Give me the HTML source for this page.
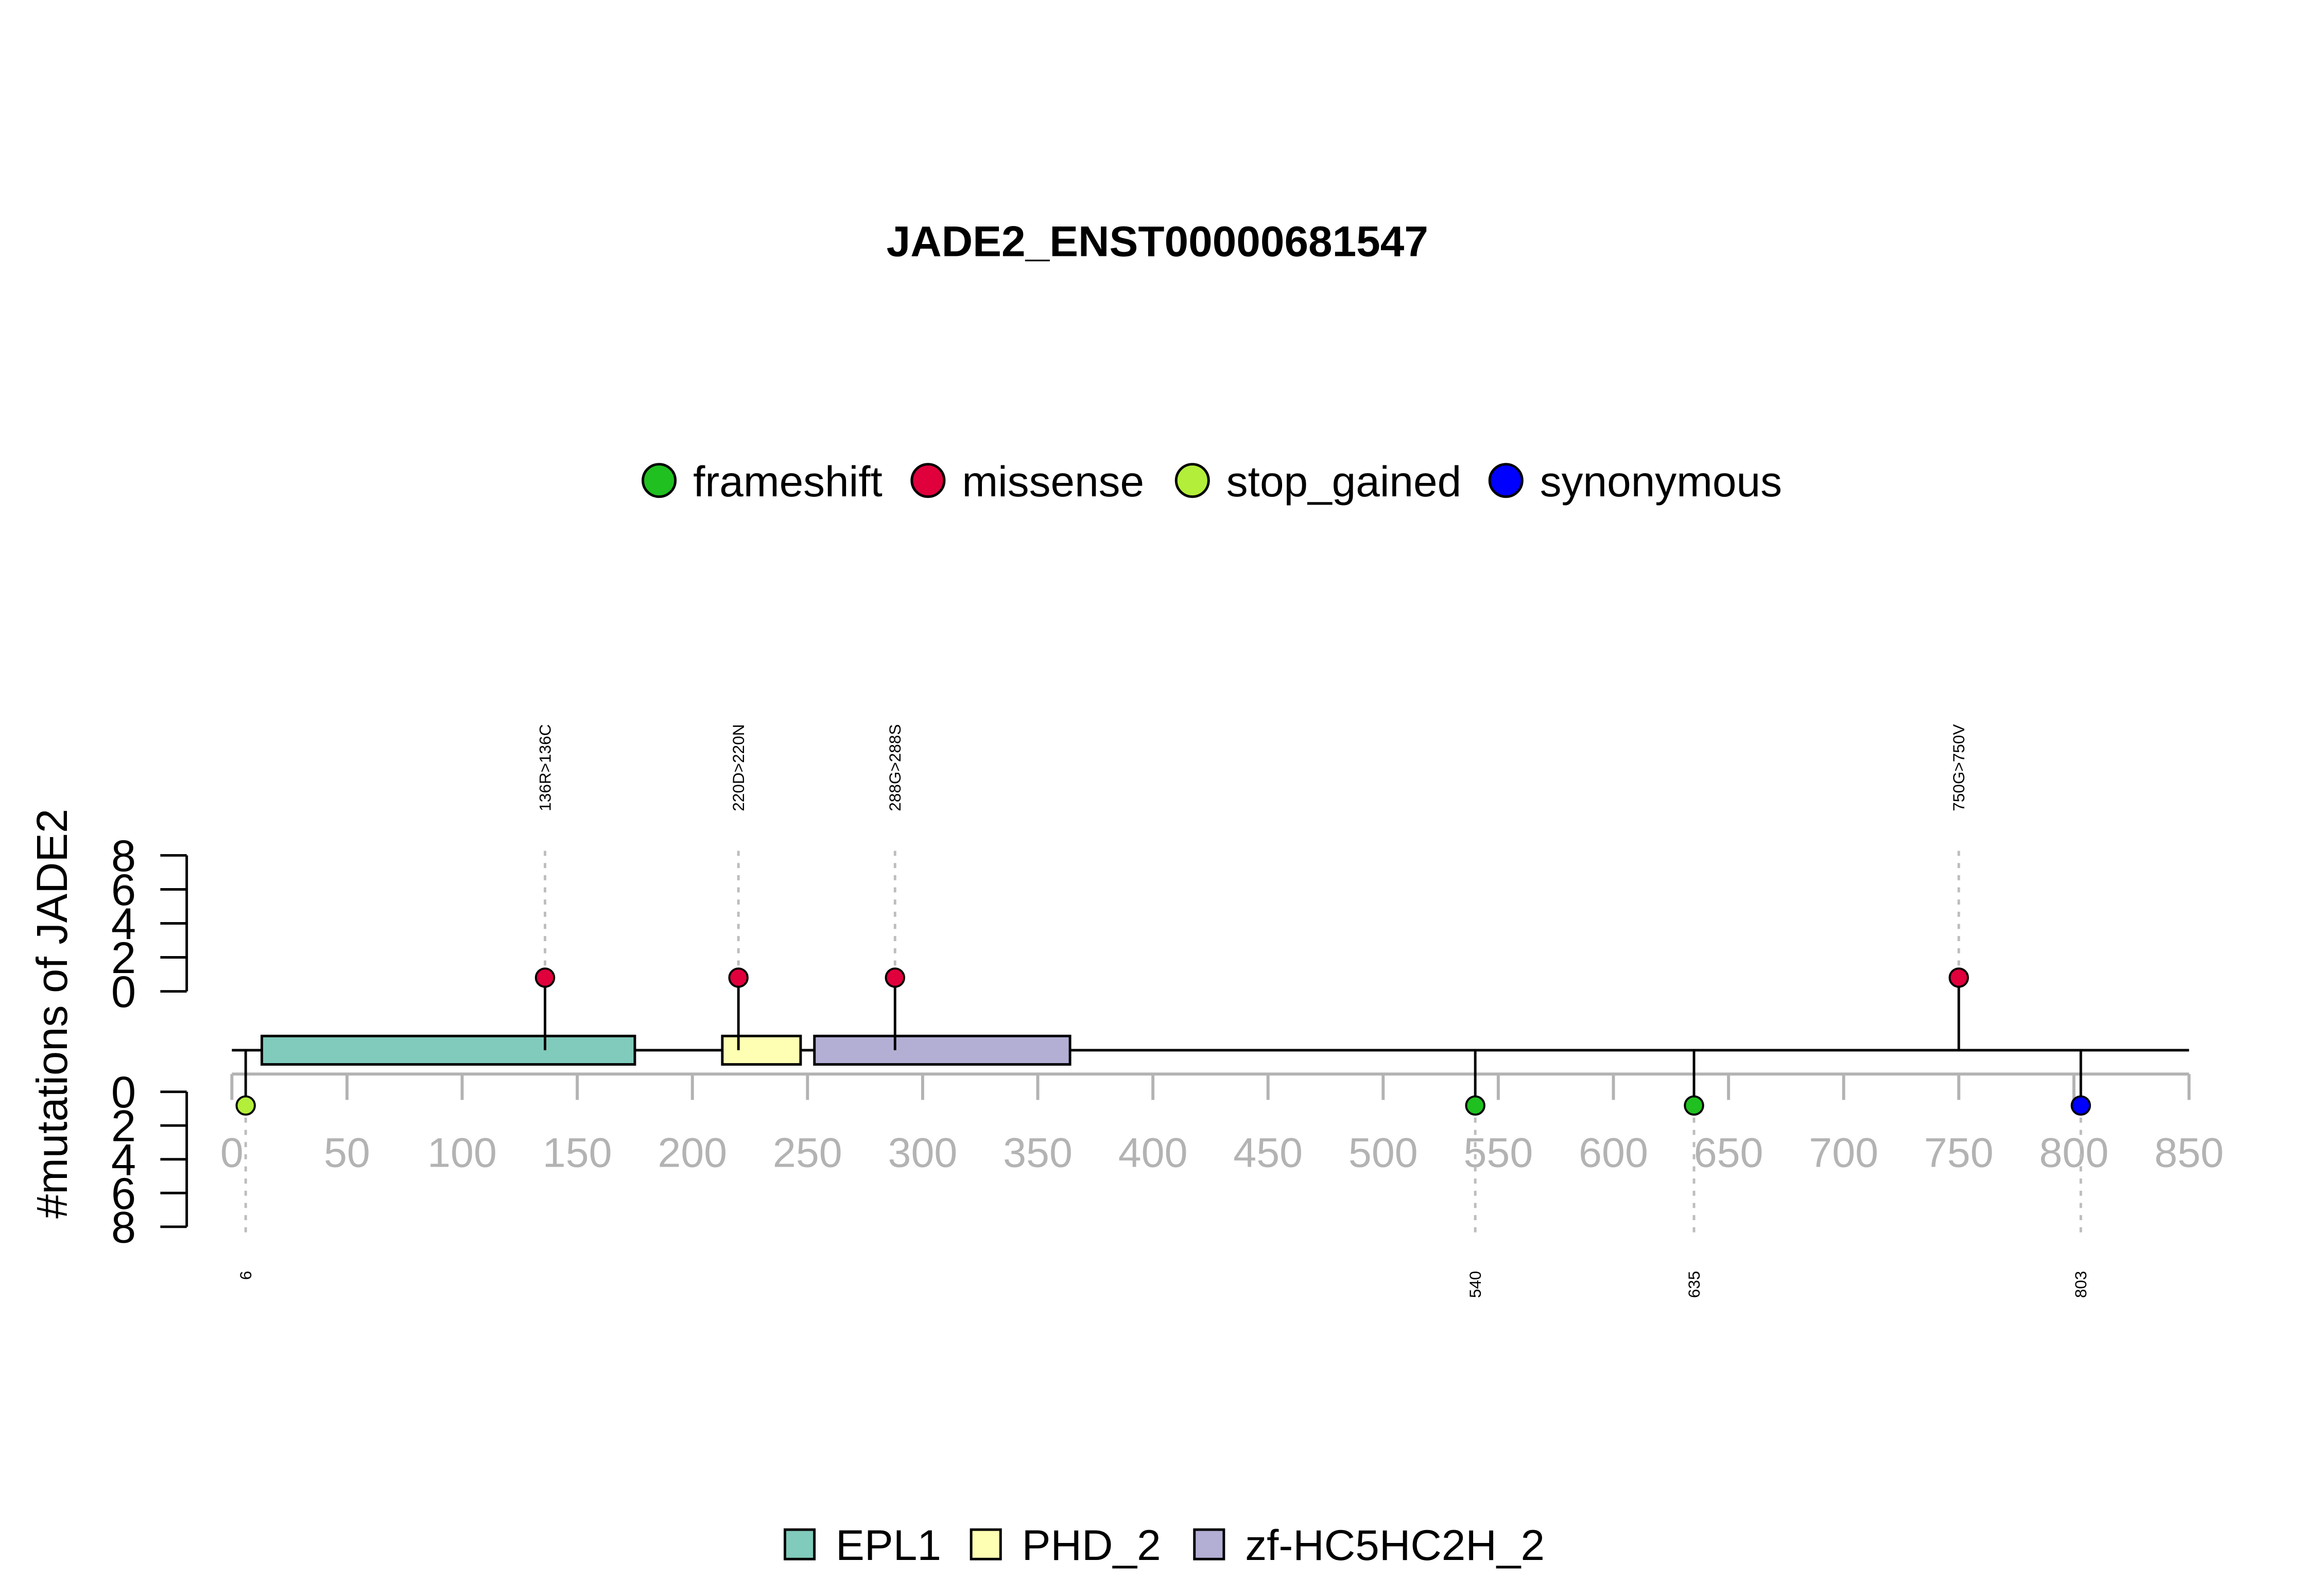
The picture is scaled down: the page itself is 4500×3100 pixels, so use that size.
<!DOCTYPE html>
<html><head><meta charset="utf-8"><style>html,body{margin:0;padding:0;background:#fff}svg{display:block}</style></head>
<body>
<svg id="chart" width="4500" height="3100" viewBox="0 0 4500 3100" xmlns="http://www.w3.org/2000/svg" font-family="'Liberation Sans', sans-serif">
<rect width="4500" height="3100" fill="#fff"/>
<g transform="scale(0.98544)">
<text x="2281" y="505" font-size="85" font-weight="bold" text-anchor="middle">JADE2_ENST00000681547</text>
<text transform="translate(132,1998) rotate(-90)" font-size="86" text-anchor="middle">#mutations of JADE2</text>
<g id="g"></g>
</g>
</svg>
<script>
const mutPositions = [6, 136, 220, 288, 540, 635, 750, 803];
const mutCounts = [1, 1, 1, 1, 1, 1, 1, 1];
const mutTypes = ["stop_gained", "missense", "missense", "missense", "frameshift", "frameshift", "missense", "synonymous"];
const mutLabels = ["6", "136R>136C", "220D>220N", "288G>288S", "540", "635", "750G>750V", "803"];
const mutSide = ["down", "up", "up", "up", "down", "down", "up", "down"];
const domainNames = ["EPL1", "PHD_2", "zf-HC5HC2H_2"];
const domainStarts = [13, 213, 253];
const domainEnds = [175, 247, 364];
const xTicks = [0,50,100,150,200,250,300,350,400,450,500,550,600,650,700,750,800,850];
const yTicks = [0,2,4,6,8];
const typeNames = ["frameshift", "missense", "stop_gained", "synonymous"];
const typeColors = ["#1fc01f", "#e0003c", "#b3ee3a", "#0000ff"];
const domainColors = ["#80cbbb", "#ffffb3", "#b3aed4"];

const NS = "http://www.w3.org/2000/svg";
const g = document.getElementById("g");
function el(tag, attrs, parent) {
  const e = document.createElementNS(NS, tag);
  for (const k in attrs) e.setAttribute(k, attrs[k]);
  (parent || g).appendChild(e);
  return e;
}
const x = v => 457 + v * 4.538;
const yUp = v => 1954 - v * 33.5;
const yDown = v => 2152 + v * 33.25;
const cUp = c => 1954 - c * 27;
const cDown = c => 2152 + c * 27;
const BASE = 2070;

let a = el("line", {x1: x(0), x2: x(850), y1: 2117, y2: 2117, stroke: "#b3b3b3", "stroke-width": 6});


xTicks.forEach(t => {
  const l = el("line", {x1: x(t), x2: x(t), y1: 2117, y2: 2168, stroke: "#b3b3b3", "stroke-width": 6});
  
  
  const tx = el("text", {x: x(t), y: 2300, "font-size": 82, fill: "#b3b3b3", "text-anchor": "middle"});
  tx.textContent = t;
  
  
});

[["upper", yUp], ["lower", yDown]].forEach(([nm, f]) => {
  const l = el("line", {x1: 368, x2: 368, y1: f(0), y2: f(8), stroke: "#000", "stroke-width": 5});
  
  
  yTicks.forEach(t => {
    const tk = el("line", {x1: 316, x2: 368, y1: f(t), y2: f(t), stroke: "#000", "stroke-width": 5});
    
    
    const tx = el("text", {x: 268, y: f(t) + 31, "font-size": 88, "text-anchor": "end"});
    tx.textContent = t;
    
    
  });
});

let bb = el("line", {x1: x(0), x2: x(850), y1: BASE, y2: BASE, stroke: "#000", "stroke-width": 5});



domainNames.forEach((n, i) => {
  const r = el("rect", {x: x(domainStarts[i]), y: 2042, width: x(domainEnds[i]) - x(domainStarts[i]), height: 56, fill: domainColors[i], stroke: "#000", "stroke-width": 5});
  
  
});

mutPositions.forEach((p, i) => {
  const up = mutSide[i] === "up";
  const cy = up ? cUp(mutCounts[i]) : cDown(mutCounts[i]);
  const col = typeColors[typeNames.indexOf(mutTypes[i])];
  const dash = el("line", {x1: x(p), x2: x(p), y1: cy, y2: up ? 1675 : 2432, stroke: "#bdbdbd", "stroke-width": 5, "stroke-dasharray": "10,14"});
  
  
  const st = el("line", {x1: x(p), x2: x(p), y1: BASE, y2: cy, stroke: "#000", "stroke-width": 5});
  
  
  const c = el("circle", {cx: x(p), cy: cy, r: 18, fill: col, stroke: "#000", "stroke-width": 4});
  
  
  const t = el("text", {"font-size": 32, "text-anchor": up ? "start" : "end",
    transform: "translate(" + (x(p) + 11) + "," + (up ? 1599 : 2505) + ") rotate(-90)"});
  t.textContent = mutLabels[i];
  
  
});

const legX = [1299, 1829, 2350, 2968];
typeNames.forEach((n, i) => {
  const c = el("circle", {cx: legX[i], cy: 947, r: 32, fill: typeColors[i], stroke: "#000", "stroke-width": 5});
  
  
  const t = el("text", {x: legX[i] + 67, y: 978, "font-size": 85});
  t.textContent = n;
  
  
});

const dlegX = [1547, 1914, 2354];
domainNames.forEach((n, i) => {
  const r = el("rect", {x: dlegX[i], y: 3015, width: 58, height: 58, fill: domainColors[i], stroke: "#000", "stroke-width": 5});
  
  
  const t = el("text", {x: dlegX[i] + 100, y: 3075, "font-size": 85});
  t.textContent = n;
  
  
});
</script>
</body></html>
